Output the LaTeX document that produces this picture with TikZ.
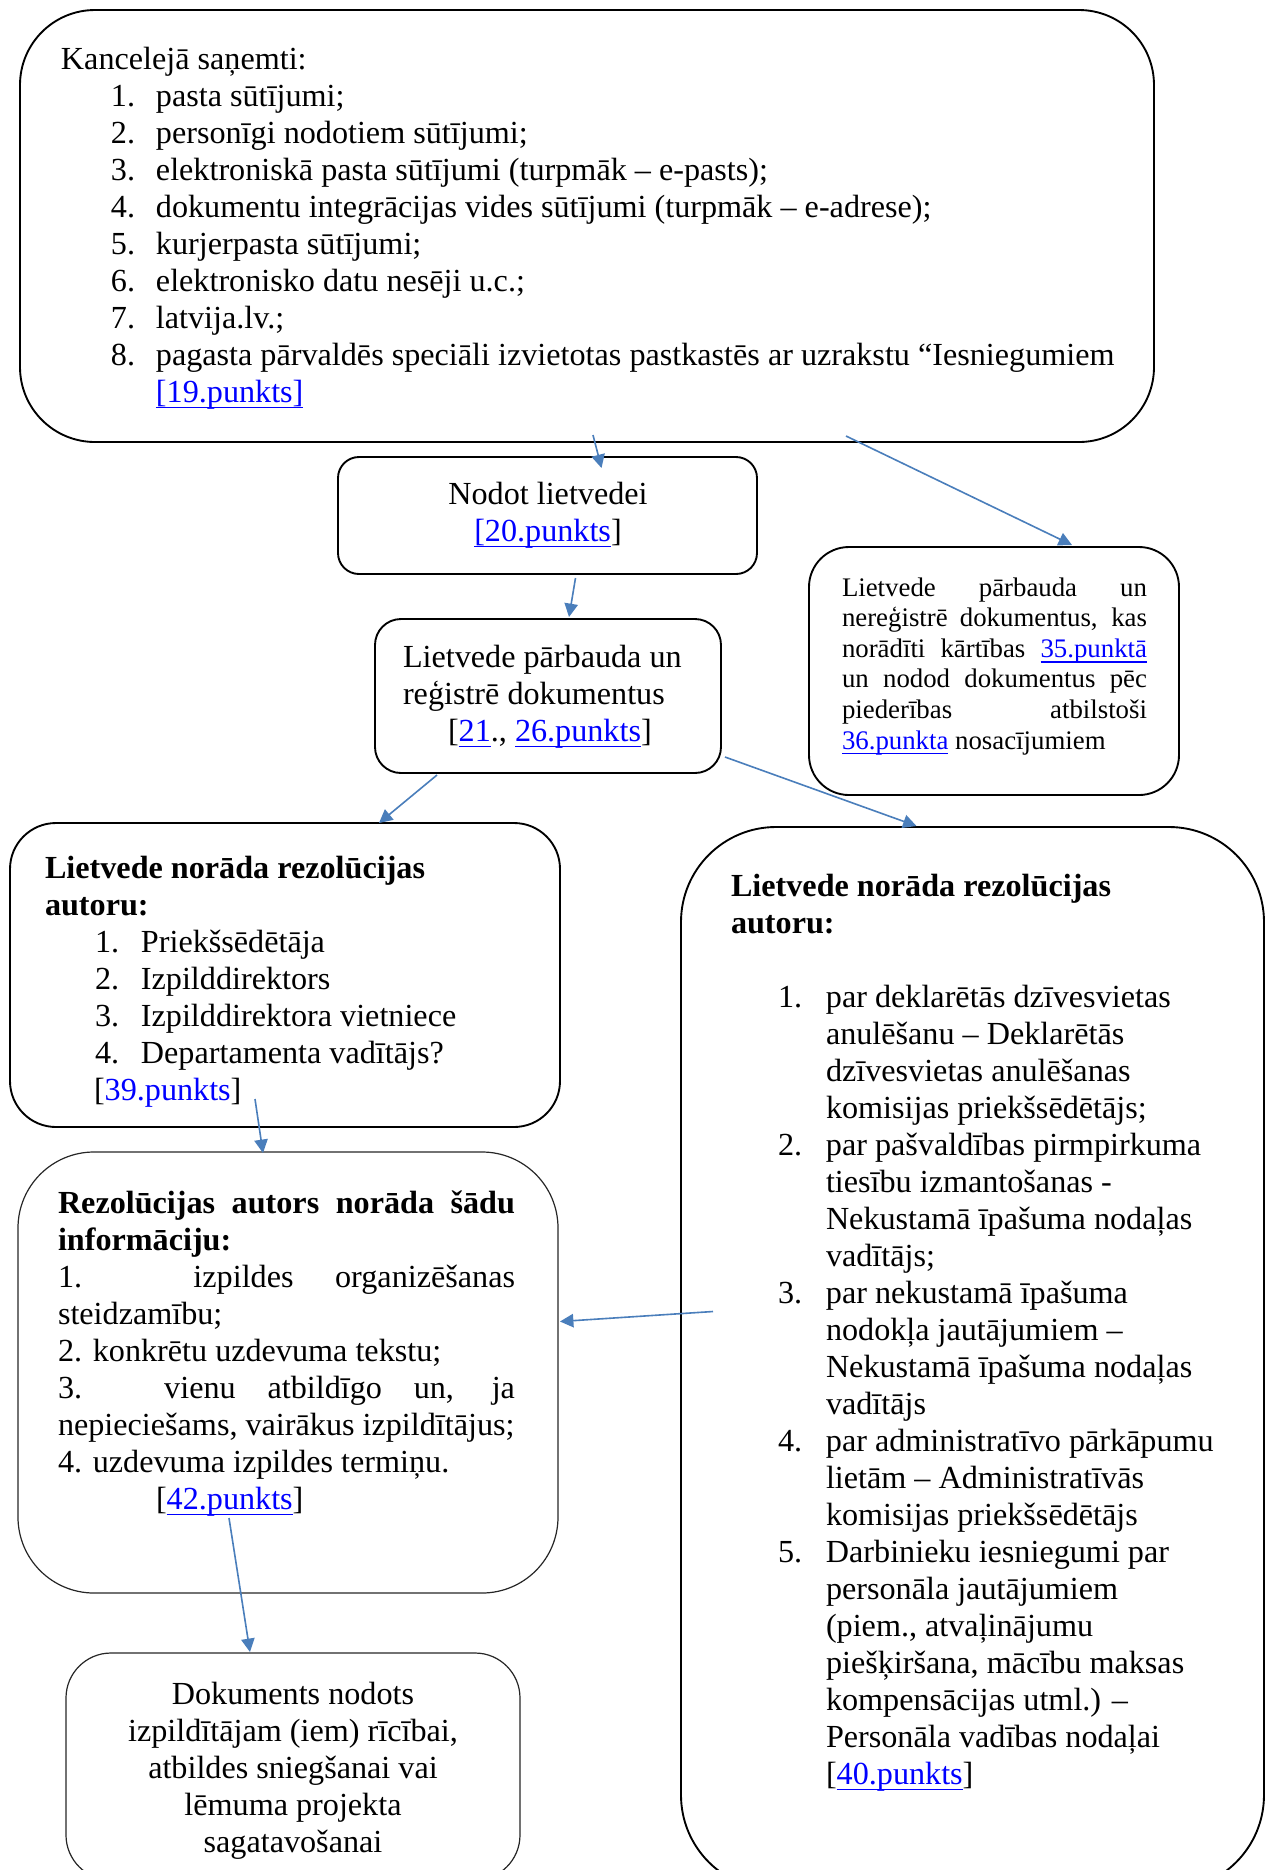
\documentclass[tikz,border=0pt]{standalone}
\usepackage{fontspec}
\setmainfont{Liberation Serif}
\usetikzlibrary{arrows.meta,calc}
\newlength\pxu
\setlength\pxu{0.373pt}
\definecolor{arrowblue}{HTML}{4A7EBB}
\definecolor{linkblue}{RGB}{0,0,255}
\newsavebox\lnkbox
\newcommand\lnk[1]{\sbox\lnkbox{\color{linkblue}#1}{\color{linkblue}\rlap{\rule[-0.2em]{\wd\lnkbox}{0.05em}}}\usebox\lnkbox}
\newcommand\itmA[1]{\hspace*{50\pxu}\makebox[45\pxu][l]{#1}}
\newcommand\itmB[1]{\hspace*{50\pxu}\makebox[46\pxu][l]{#1}}
\newcommand\itmC[1]{\hspace*{47\pxu}\makebox[48\pxu][l]{#1}}
\newcommand\cont{\hspace*{95\pxu}}
\newcommand\jlA[1]{\makebox[305\pxu][s]{#1}}
\newcommand\jlB[1]{\makebox[457\pxu][s]{#1}}
\begin{document}
\begin{tikzpicture}[x=0.373pt,y=-0.373pt,
  rbox/.style={draw, line width=0.7pt, anchor=north west, inner sep=0pt, outer sep=0pt},
  thinbox/.style={rbox, line width=0.45pt, draw=black!85},
  txt/.style={inner sep=0pt, outer sep=0pt, font=\fontsize{12pt}{13.8pt}\selectfont},
  smalltxt/.style={inner sep=0pt, outer sep=0pt, font=\fontsize{10pt}{11.4pt}\selectfont},
  arr/.style={color=arrowblue, line width=0.6pt, -{Triangle[length=5pt,width=5pt]}}]
\useasboundingbox (0,0) rectangle (1272,1870);

% boxes
\node[rbox, rounded corners=75\pxu, minimum width=1134\pxu, minimum height=432\pxu] (b1) at (20,10) {};
\node[rbox, rounded corners=21\pxu, minimum width=419\pxu, minimum height=117\pxu] (b2) at (338,457) {};
\node[rbox, rounded corners=26\pxu, minimum width=346\pxu, minimum height=154\pxu] (b3) at (375,619) {};
\node[rbox, rounded corners=40\pxu, minimum width=370\pxu, minimum height=248\pxu] (b4) at (809,547) {};
\node[rbox, rounded corners=46\pxu, minimum width=550\pxu, minimum height=304\pxu] (b5) at (10,823) {};
\node[rbox, rounded corners=95\pxu, minimum width=583\pxu, minimum height=1063\pxu] (b6) at (681,827) {};
\node[thinbox, rounded corners=76\pxu, minimum width=540\pxu, minimum height=441\pxu] (b7) at (18,1152) {};
\node[thinbox, rounded corners=45\pxu, minimum width=454\pxu, minimum height=227\pxu] (b8) at (66,1653) {};

% texts (anchor base = baseline of the last line)
\node[txt, anchor=base west, align=left] (t1) at (61,402) {%
Kancelejā saņemti:\\
\itmA{1.}pasta sūtījumi;\\
\itmA{2.}personīgi nodotiem sūtījumi;\\
\itmA{3.}elektroniskā pasta sūtījumi (turpmāk – e-pasts);\\
\itmA{4.}dokumentu integrācijas vides sūtījumi (turpmāk – e-adrese);\\
\itmA{5.}kurjerpasta sūtījumi;\\
\itmA{6.}elektronisko datu nesēji u.c.;\\
\itmA{7.}latvija.lv.;\\
\itmA{8.}pagasta pārvaldēs speciāli izvietotas pastkastēs ar uzrakstu “Iesniegumiem\\
\cont\lnk{[19.punkts]}};

\node[txt, anchor=base, align=center] (t2) at (548,541) {Nodot lietvedei\\ \lnk{[20.punkts}]};

\node[txt, anchor=base west, align=left] (t3) at (403,741) {%
Lietvede pārbauda un\\
reģistrē dokumentus\\
\hspace*{45\pxu}[\lnk{21}., \lnk{26.punkts}]};

\node[smalltxt, anchor=base west, align=left] (t4) at (842,749) {%
\jlA{Lietvede pārbauda un}\\
\jlA{nereģistrē dokumentus, kas}\\
\jlA{norādīti kārtības \lnk{35.punktā}}\\
\jlA{un nodod dokumentus pēc}\\
\jlA{piederības atbilstoši}\\
\lnk{36.punkta} nosacījumiem};

\node[txt, anchor=base west, align=left] (t5) at (45,1100) {%
\textbf{Lietvede norāda rezolūcijas}\\
\textbf{autoru:}\\
\itmB{1.}Priekšsēdētāja\\
\itmB{2.}Izpilddirektors\\
\itmB{3.}Izpilddirektora vietniece\\
\itmB{4.}Departamenta vadītājs?\\
\hspace*{49\pxu}[\textcolor{linkblue}{39.punkts}]};

\node[txt, anchor=base west, align=left] (t6) at (731,1784) {%
\textbf{Lietvede norāda rezolūcijas}\\
\textbf{autoru:}\\[13.8pt]
\itmC{1.}par deklarētās dzīvesvietas\\
\cont anulēšanu – Deklarētās\\
\cont dzīvesvietas anulēšanas\\
\cont komisijas priekšsēdētājs;\\
\itmC{2.}par pašvaldības pirmpirkuma\\
\cont tiesību izmantošanas -\\
\cont Nekustamā īpašuma nodaļas\\
\cont vadītājs;\\
\itmC{3.}par nekustamā īpašuma\\
\cont nodokļa jautājumiem –\\
\cont Nekustamā īpašuma nodaļas\\
\cont vadītājs\\
\itmC{4.}par administratīvo pārkāpumu\\
\cont lietām – Administratīvās\\
\cont komisijas priekšsēdētājs\\
\itmC{5.}Darbinieku iesniegumi par\\
\cont personāla jautājumiem\\
\cont (piem., atvaļinājumu\\
\cont piešķiršana, mācību maksas\\
\cont kompensācijas utml.) –\\
\cont Personāla vadības nodaļai\\
\cont [\lnk{40.punkts}]};

\node[txt, anchor=base west, align=left] (t7) at (58,1509) {%
\jlB{\textbf{Rezolūcijas autors norāda šādu}}\\
\textbf{informāciju:}\\
\jlB{1. izpildes organizēšanas}\\
steidzamību;\\
2. konkrētu uzdevuma tekstu;\\
\jlB{3. vienu atbildīgo un, ja}\\
nepieciešams, vairākus izpildītājus;\\
4. uzdevuma izpildes termiņu.\\
\hspace*{98\pxu}[\lnk{42.punkts}]};

\node[txt, anchor=base, align=center] (t8) at (293,1852) {%
Dokuments nodots\\
izpildītājam (iem) rīcībai,\\
atbildes sniegšanai vai\\
lēmuma projekta\\
sagatavošanai};

% connectors
\draw[arr] ($(b1.south)+(6,-7)$) -- ($(b2.north)+(54,11)$);
\draw[arr] ($(b1.south)+(259,-6)$) -- ($(b4.north)+(78,-2)$);
\draw[arr] ($(b2.south)+(28,4)$) -- ($(b3.north)+(21,-2)$);
\draw[arr] ($(b3.south)+(-111,2)$) -- ($(b5.north)+(94,0)$);
\draw[arr] ($(b3.south east)+(4,-16)$) -- ($(b6.north)+(-56,-1)$);
\draw[arr] ($(b5.south)+(-30,-28)$) -- ($(b7.north)+(-25,1)$);
\draw[arr] ($(b6.west)+(32,-47)$) -- ($(b7.east)+(2,-51)$);
\draw[arr] ($(b7.south)+(-59,-75)$) -- ($(b8.north)+(-43,-1)$);
\end{tikzpicture}
\end{document}
